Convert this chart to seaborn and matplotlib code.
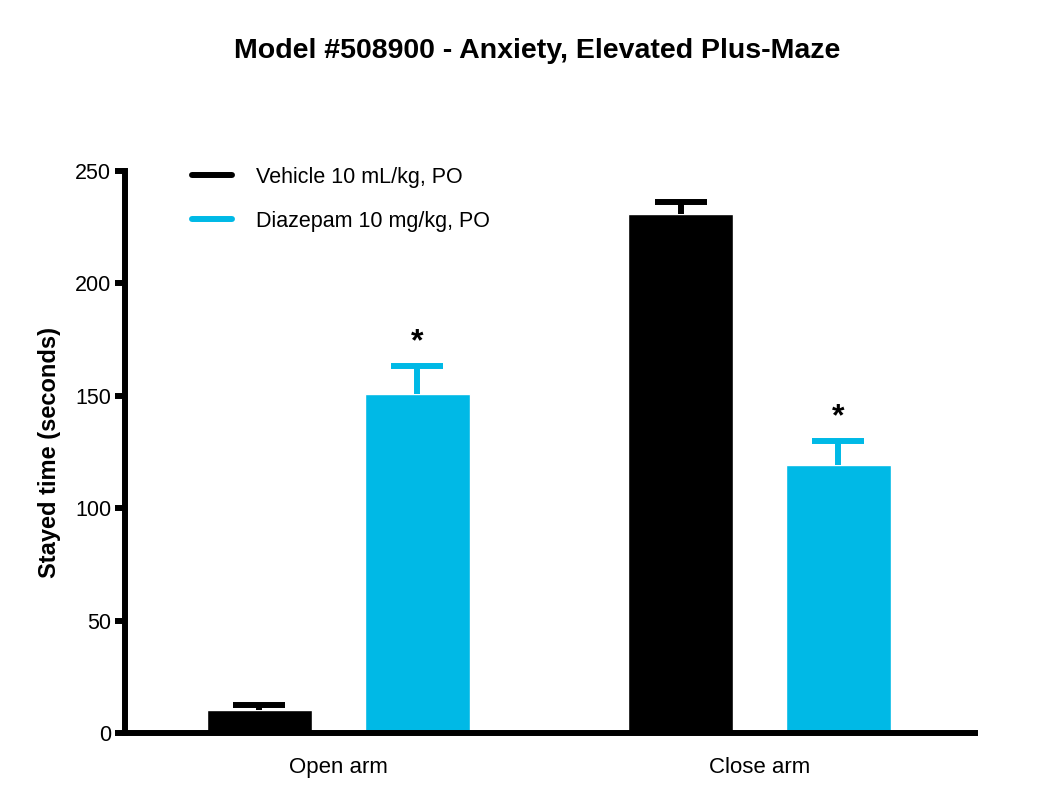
import numpy as np
import pandas as pd
import seaborn as sns
import matplotlib.pyplot as plt
from matplotlib.lines import Line2D

# data
groups = ["Open arm", "Close arm"]
treatments = ["Vehicle 10 mL/kg, PO", "Diazepam 10 mg/kg, PO"]
vehicle_mean = [10.2, 230.9]
vehicle_sem = [2.3, 5.3]
diazepam_mean = [150.8, 119.2]
diazepam_sem = [12.5, 10.7]
vehicle_sig = [False, False]
diazepam_sig = [True, True]

colors = ["#000000", "#00B9E6"]

df = pd.DataFrame({
    "group": groups * 2,
    "treatment": [treatments[0]] * 2 + [treatments[1]] * 2,
    "mean": vehicle_mean + diazepam_mean,
    "sem": vehicle_sem + diazepam_sem,
    "sig": vehicle_sig + diazepam_sig,
})

sns.set_style("ticks")
plt.rcParams['font.family'] = ['Liberation Sans', 'DejaVu Sans']
plt.rcParams['text.color'] = 'black'
plt.rcParams['axes.labelcolor'] = 'black'
plt.rcParams['xtick.color'] = 'black'
plt.rcParams['ytick.color'] = 'black'

fig = plt.figure(figsize=(10.5, 8.01), dpi=100)
ax = fig.add_axes([0.119, 0.0849, 0.8096, 0.7016])

sns.barplot(data=df, x="group", y="mean", hue="treatment", order=groups,
            hue_order=treatments, palette=colors, width=0.75, gap=0.333,
            errorbar=None, saturation=1, legend=False, ax=ax)

# upper error bars only, then significance stars
for cont, tr in zip(ax.containers, treatments):
    sub = df[df["treatment"] == tr].set_index("group").loc[groups]
    for bar, m, s, sig in zip(cont, sub["mean"], sub["sem"], sub["sig"]):
        x = bar.get_x() + bar.get_width() / 2
        c = bar.get_facecolor()
        _, caps, _ = ax.errorbar(x, m, yerr=[[0], [s]], fmt="none", ecolor=c,
                                 elinewidth=4.3, capsize=19, capthick=4.3, zorder=3)
        for cap in caps:
            if np.isclose(cap.get_ydata()[0], m):
                cap.remove()
        if sig:
            ax.annotate("*", (x, m + s), xytext=(0, 6), textcoords="offset points",
                        ha="center", va="bottom", fontsize=23, fontweight="bold")

ax.set_xlim(-0.507, 1.512)
ax.set_ylim(0, 250)
ax.set_yticks([0, 50, 100, 150, 200, 250])
ax.set_xlabel("")
ax.set_ylabel("Stayed time (seconds)", fontsize=17, fontweight="bold", labelpad=10)
ax.tick_params(axis="y", length=7, width=4.3, labelsize=15.5, pad=3)
ax.tick_params(axis="x", length=0, labelsize=16, pad=17)
for sp in ["left", "bottom"]:
    ax.spines[sp].set_linewidth(4.3)
    ax.spines[sp].set_color("black")
sns.despine(ax=ax)

handles = [Line2D([], [], color=c, lw=4.3) for c in colors]
fig.legend(handles, treatments, loc="upper left", bbox_to_anchor=(0.173, 0.805), frameon=False,
           fontsize=15.5, handlelength=1.85, handletextpad=1.1, labelspacing=1.05, borderpad=0)

fig.suptitle("Model #508900 - Anxiety, Elevated Plus-Maze", x=0.512, y=0.953,
             fontsize=20.5, fontweight="bold")

fig.savefig("out.png", dpi=100)
